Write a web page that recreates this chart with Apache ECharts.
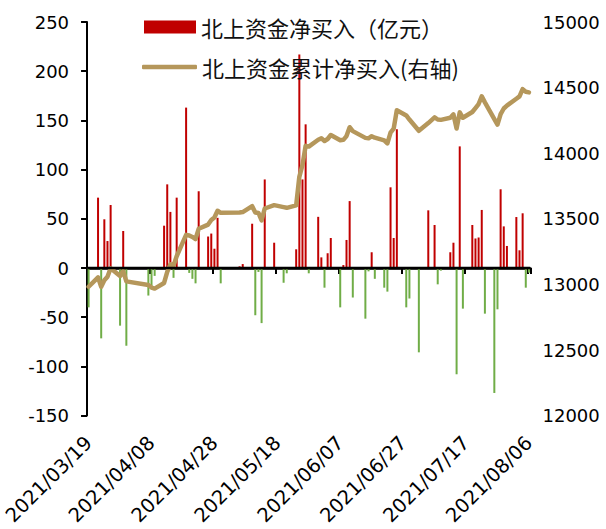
<!DOCTYPE html>
<html>
<head>
<meta charset="utf-8">
<script src="https://cdn.jsdelivr.net/npm/echarts@6/dist/echarts.min.js"></script>
<style>
html,body{margin:0;padding:0;background:#fff;}
#c{width:606px;height:529px;}
</style>
</head>
<body>
<div id="c"></div>
<script>
const categories = [
'2021/03/19','2021/03/20','2021/03/21','2021/03/22','2021/03/23','2021/03/24','2021/03/25','2021/03/26','2021/03/27','2021/03/28','2021/03/29','2021/03/30','2021/03/31',
'2021/04/01','2021/04/02','2021/04/03','2021/04/04','2021/04/05','2021/04/06','2021/04/07','2021/04/08','2021/04/09','2021/04/10','2021/04/11','2021/04/12','2021/04/13','2021/04/14','2021/04/15','2021/04/16','2021/04/17','2021/04/18','2021/04/19','2021/04/20','2021/04/21','2021/04/22','2021/04/23','2021/04/24','2021/04/25','2021/04/26','2021/04/27','2021/04/28','2021/04/29','2021/04/30',
'2021/05/01','2021/05/02','2021/05/03','2021/05/04','2021/05/05','2021/05/06','2021/05/07','2021/05/08','2021/05/09','2021/05/10','2021/05/11','2021/05/12','2021/05/13','2021/05/14','2021/05/15','2021/05/16','2021/05/17','2021/05/18','2021/05/19','2021/05/20','2021/05/21','2021/05/22','2021/05/23','2021/05/24','2021/05/25','2021/05/26','2021/05/27','2021/05/28','2021/05/29','2021/05/30','2021/05/31',
'2021/06/01','2021/06/02','2021/06/03','2021/06/04','2021/06/05','2021/06/06','2021/06/07','2021/06/08','2021/06/09','2021/06/10','2021/06/11','2021/06/12','2021/06/13','2021/06/14','2021/06/15','2021/06/16','2021/06/17','2021/06/18','2021/06/19','2021/06/20','2021/06/21','2021/06/22','2021/06/23','2021/06/24','2021/06/25','2021/06/26','2021/06/27','2021/06/28','2021/06/29','2021/06/30',
'2021/07/01','2021/07/02','2021/07/03','2021/07/04','2021/07/05','2021/07/06','2021/07/07','2021/07/08','2021/07/09','2021/07/10','2021/07/11','2021/07/12','2021/07/13','2021/07/14','2021/07/15','2021/07/16','2021/07/17','2021/07/18','2021/07/19','2021/07/20','2021/07/21','2021/07/22','2021/07/23','2021/07/24','2021/07/25','2021/07/26','2021/07/27','2021/07/28','2021/07/29','2021/07/30','2021/07/31',
'2021/08/01','2021/08/02','2021/08/03','2021/08/04','2021/08/05','2021/08/06'
];

const tradeDates = [
'2021/03/19','2021/03/22','2021/03/23','2021/03/24','2021/03/25','2021/03/26','2021/03/29','2021/03/30','2021/03/31',
'2021/04/07','2021/04/08','2021/04/09','2021/04/12','2021/04/13','2021/04/14','2021/04/15','2021/04/16','2021/04/19','2021/04/20','2021/04/21','2021/04/22','2021/04/23','2021/04/26','2021/04/27','2021/04/28','2021/04/29','2021/04/30',
'2021/05/06','2021/05/07','2021/05/10','2021/05/11','2021/05/12','2021/05/13','2021/05/14','2021/05/17','2021/05/20','2021/05/21','2021/05/24','2021/05/25','2021/05/26','2021/05/27','2021/05/28','2021/05/31',
'2021/06/01','2021/06/02','2021/06/03','2021/06/04','2021/06/07','2021/06/08','2021/06/09','2021/06/10','2021/06/11','2021/06/15','2021/06/16','2021/06/17','2021/06/18','2021/06/21','2021/06/22','2021/06/23','2021/06/24','2021/06/25','2021/06/28','2021/06/29',
'2021/07/02','2021/07/05','2021/07/07','2021/07/08','2021/07/09','2021/07/12','2021/07/13','2021/07/14','2021/07/15','2021/07/16','2021/07/19','2021/07/20','2021/07/21','2021/07/22','2021/07/23','2021/07/26','2021/07/27','2021/07/28','2021/07/29','2021/07/30',
'2021/08/02','2021/08/03','2021/08/04','2021/08/05','2021/08/06'
];

const netBuy = [
-40, 71.5, -71.5, 49.5, 27.4, 64, -58.6, 37.6, -79,
-28, -19, -8, 43, 85, 57, -10, 71.5, 163, -5, -11, -15.6, 78, 32, 35, 19.6, 51, -15.6,
1.7, 4, 45, -48, -4, -56, 90, 25.7, -15, -5.4, 19, 217, 90, 146, -5.4, 52,
10.8, -20, 15, 30.5, -40, 3, 28.5, 68, -30, -51.5, -3.4, 16, -11, -20, -24, 82, 30.5, 141, -40, -31,
-85.7, 58.6, 43.7, -16.6, -2.7, 16, 25.7, -108, 123.6, -41.3, 43.7, 30, 31, 59, -46.4, -127, -42, 80, 42.3, 22.4,
51.8, 18, 55.6, -20, -4.7
];

const cumulative = [
12982, 13053.5, 12982, 13031.5, 13058.9, 13122.9, 13064.3, 13101.9, 13022.9,
12994.9, 12975.9, 12967.9, 13010.9, 13095.9, 13152.9, 13142.9, 13214.4, 13377.4, 13372.4, 13361.4, 13345.8, 13423.8, 13455.8, 13490.8, 13510.4, 13561.4, 13545.8,
13547.5, 13551.5, 13596.5, 13548.5, 13544.5, 13488.5, 13578.5, 13604.2, 13589.2, 13583.8, 13602.8, 13819.8, 13909.8, 14055.8, 14050.4, 14102.4,
14113.2, 14093.2, 14108.2, 14138.7, 14098.7, 14101.7, 14130.2, 14198.2, 14168.2, 14116.7, 14113.3, 14129.3, 14118.3, 14098.3, 14074.3, 14156.3, 14186.8, 14327.8, 14287.8, 14256.8,
14171.1, 14229.7, 14273.4, 14256.8, 14254.1, 14270.1, 14295.8, 14187.8, 14311.4, 14270.1, 14313.8, 14343.8, 14374.8, 14433.8, 14387.4, 14260.4, 14218.4, 14298.4, 14340.7, 14363.1,
14414.9, 14432.9, 14488.5, 14468.5, 14463.8
];

const seriesNames = ['北上资金净买入（亿元）', '北上资金累计净买入(右轴)'];

const RED = '#C00000', GREEN = '#70AD47', TAN = '#B5975B';
const barData = tradeDates.map((d, i) => {
  const v = netBuy[i];
  return v < 0 ? { value: [d, v], itemStyle: { color: GREEN } } : { value: [d, v] };
});
const lineData = tradeDates.map((d, i) => [d, cumulative[i]]);
const zeroLineData = [[categories[0], 0], [categories[categories.length - 1], 0]];

const chart = echarts.init(document.getElementById('c'), null, { renderer: 'svg' });
const axisFont = 'DejaVu Sans';
chart.setOption({
  animation: false,
  backgroundColor: '#fff',
  grid: { left: 71, right: 75.5, top: 22, bottom: 113.4, containLabel: false },
  legend: [
    { data: [{ name: seriesNames[0], icon: 'rect' }], left: 139, top: 11, orient: 'vertical', itemWidth: 52, itemHeight: 13, itemGap: 0,
      textStyle: { fontFamily: 'Noto Sans CJK SC', fontSize: 22, color: '#111' } },
    { data: [{ name: seriesNames[1], icon: 'roundRect' }], left: 137, top: 51, orient: 'vertical', itemWidth: 55, itemHeight: 4.5, itemGap: 0,
      itemStyle: { color: TAN }, lineStyle: { width: 0, opacity: 0 },
      textStyle: { fontFamily: 'Noto Sans CJK SC', fontSize: 22, color: '#111' } }
  ],
  xAxis: [
    { type: 'category', data: categories, position: 'bottom', boundaryGap: true,
      axisLine: { show: false, onZero: false }, axisTick: { show: false },
      axisLabel: { interval: 19, rotate: 45, margin: 24, fontFamily: axisFont, fontSize: 19.5, color: '#000' },
      splitLine: { show: false } },
    { type: 'category', data: categories, position: 'bottom', boundaryGap: true,
      axisLine: { show: true, onZero: true, onZeroAxisIndex: 0, lineStyle: { color: '#000', width: 2.5 } },
      axisTick: { show: true, interval: 19, alignWithLabel: false, inside: false, length: 6, lineStyle: { color: '#000', width: 2 } },
      axisLabel: { show: false }, splitLine: { show: false } }
  ],
  yAxis: [
    { type: 'value', min: -150, max: 250, interval: 50, position: 'left',
      axisLine: { show: true, onZero: false, lineStyle: { color: '#000', width: 2 } },
      axisTick: { show: true, length: 6, lineStyle: { color: '#000', width: 2 } },
      axisLabel: { margin: 18, fontFamily: axisFont, fontSize: 18, color: '#000', formatter: v => String(v) },
      splitLine: { show: false } },
    { type: 'value', min: 12000, max: 15000, interval: 500, position: 'right',
      axisLine: { show: false }, axisTick: { show: false },
      axisLabel: { margin: 12, fontFamily: axisFont, fontSize: 18, color: '#000', formatter: v => String(v) },
      splitLine: { show: false } }
  ],
  series: [
    { name: 'zero', type: 'line', xAxisIndex: 0, yAxisIndex: 0, data: zeroLineData,
      symbol: 'none', showSymbol: false, silent: true, z: 4,
      lineStyle: { color: '#000', width: 2.5, cap: 'square' }, itemStyle: { color: '#000' },
      emphasis: { disabled: true }, tooltip: { show: false } },
    { name: seriesNames[0], type: 'bar', xAxisIndex: 0, yAxisIndex: 0, data: barData,
      barWidth: 2, itemStyle: { color: RED }, z: 2 },
    { name: seriesNames[1], type: 'line', xAxisIndex: 0, yAxisIndex: 1, data: lineData,
      symbol: 'none', showSymbol: false, connectNulls: true,
      lineStyle: { color: TAN, width: 4.5, cap: 'round', join: 'round' },
      itemStyle: { color: TAN }, z: 3 }
  ]
});
</script>
</body>
</html>
